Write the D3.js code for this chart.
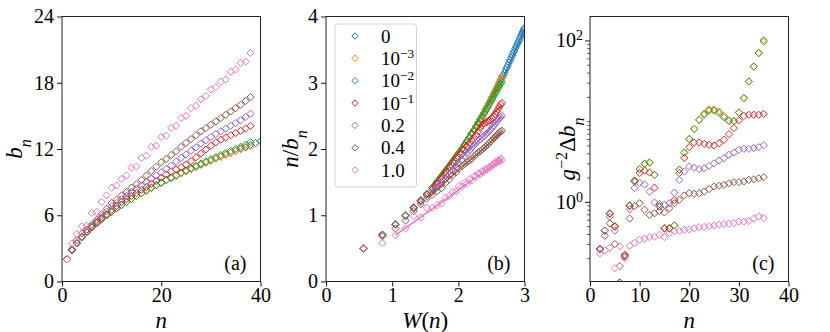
<!DOCTYPE html>
<html>
<head>
<meta charset="utf-8">
<script src="https://cdn.jsdelivr.net/npm/d3@7"></script>
<style>
  body { margin: 0; background: #fff; }
  svg text { font-family: "Liberation Serif", "Times New Roman", "DejaVu Serif", serif; fill: #000; }
</style>
</head>
<body>
<div id="drawing"></div>
<script>
// Series labels (coupling g) and colours
const gLabels = ["0", "10|-3", "10|-2", "10|-1", "0.2", "0.4", "1.0"];
const colors = ["#1f77b4", "#ff7f0e", "#2ca02c", "#d62728", "#9467bd", "#8c564b", "#e377c2"];

// Panel (a): b_n, n = 1, 2, ... (g=0 runs to n=60, the rest to n=38)
const bBlue = [2.0, 2.83, 3.46, 4.0, 4.47, 4.9, 5.29, 5.66, 6.0, 6.32,
  6.63, 6.93, 7.21, 7.48, 7.75, 8.0, 8.25, 8.49, 8.72, 8.94,
  9.17, 9.38, 9.59, 9.8, 10.0, 10.2, 10.39, 10.58, 10.77, 10.95,
  11.14, 11.31, 11.49, 11.66, 11.85, 12.05, 12.2, 12.38, 12.55, 12.7,
  12.84, 13.0, 13.17, 13.31, 13.47, 13.62, 13.78, 13.92, 14.08, 14.22,
  14.38, 14.52, 14.67, 14.82, 14.96, 15.1, 15.25, 15.4, 15.53, 15.68];
const bOrange = [2.0, 2.83, 3.46, 4.0, 4.47, 4.9, 5.29, 5.66, 6.0, 6.32,
  6.63, 6.93, 7.21, 7.48, 7.75, 8.0, 8.25, 8.49, 8.72, 8.94,
  9.17, 9.38, 9.59, 9.8, 10.0, 10.2, 10.39, 10.58, 10.77, 10.95,
  11.14, 11.31, 11.49, 11.66, 11.83, 11.98, 12.12, 12.25];
const bGreen = [2.0, 2.83, 3.46, 4.0, 4.47, 4.9, 5.29, 5.66, 6.0, 6.32,
  6.63, 6.93, 7.21, 7.48, 7.75, 8.0, 8.25, 8.49, 8.72, 8.96,
  9.2, 9.42, 9.63, 9.85, 10.06, 10.27, 10.48, 10.68, 10.88, 11.07,
  11.26, 11.45, 11.64, 11.83, 12.02, 12.2, 12.4, 12.62];
const bRed = [2.0, 2.85, 3.5, 4.05, 4.5, 4.95, 5.35, 5.75, 6.1, 6.5,
  6.85, 7.2, 7.45, 7.75, 8.0, 8.3, 8.55, 8.85, 9.1, 9.4,
  9.7, 9.95, 10.15, 10.35, 10.6, 10.9, 11.25, 11.6, 11.95, 12.3,
  12.6, 12.85, 13.05, 13.25, 13.45, 13.65, 13.85, 14.1];
const bPurple = [2.0, 2.86, 3.5, 4.05, 4.55, 5.0, 5.45, 5.9, 6.35, 6.8,
  7.1, 7.45, 7.75, 8.1, 8.4, 8.7, 9.0, 9.3, 9.6, 9.9,
  10.2, 10.5, 10.85, 11.2, 11.5, 11.85, 12.15, 12.5, 12.8, 13.1,
  13.35, 13.6, 13.85, 14.1, 14.35, 14.6, 14.9, 15.2];
const bBrown = [2.0, 2.93, 3.75, 4.35, 4.7, 5.15, 5.6, 6.1, 6.6, 7.1,
  7.4, 7.8, 8.1, 8.5, 8.8, 9.2, 9.6, 10.0, 10.4, 10.8,
  11.1, 11.45, 11.8, 12.2, 12.55, 12.9, 13.25, 13.6, 13.9, 14.2,
  14.5, 14.8, 15.1, 15.4, 15.7, 16.0, 16.35, 16.7];
const bPink = [2.0, 3.45, 4.3, 5.0, 5.05, 6.2, 6.3, 7.2, 7.8, 8.5,
  8.7, 9.3, 9.6, 10.3, 10.4, 11.2, 11.4, 12.2, 12.3, 13.1,
  13.2, 13.9, 14.1, 14.8, 15.0, 15.7, 15.9, 16.5, 16.8, 17.4,
  17.6, 18.1, 18.3, 19.0, 19.2, 19.8, 19.9, 20.7];
const bSeries = [bBlue, bOrange, bGreen, bRed, bPurple, bBrown, bPink];

// Panel (b): solid guide lines, [W, n/b_n]
const lineBlue = [[1.6, 1.45], [2.0, 1.98], [2.4, 2.6], [2.7, 3.12], [3.0, 3.82]];
const lineOrange = [[1.6, 1.45], [2.0, 1.98], [2.4, 2.6], [2.66, 3.08]];
const lineGreen = [[1.6, 1.45], [2.0, 1.98], [2.4, 2.58], [2.66, 3.02]];
const lineRed = [[1.6, 1.42], [2.0, 1.95], [2.4, 2.42], [2.66, 2.66]];
const linePurple = [[1.6, 1.38], [2.0, 1.82], [2.4, 2.22], [2.66, 2.5]];
const lineBrown = [[1.55, 1.27], [2.0, 1.68], [2.4, 2.02], [2.66, 2.27]];
const linePink = [[1.05, 0.7], [2.66, 1.85]];
const lineSeries = [lineBlue, lineOrange, lineGreen, lineRed, linePurple, lineBrown, linePink];

// Panel (c): g^-2 Δb_n for n = 2 ... 35
const nStartC = 2;
const dOrange = [0.26, 0.44, 0.72, 0.50, 0.10, 0.22, 0.90, 1.84, 2.54, 2.96,
  3.07, 2.16, 0.94, 0.47, 0.47, 0.51, 2.5, 4.08, 6.0, 8.0,
  10.4, 12.4, 14.0, 14.0, 13.2, 11.6, 10.1, 10.0, 12.8, 19.3,
  31, 47.5, 69.7, 101];
const dGreen = [0.26, 0.44, 0.72, 0.50, 0.10, 0.22, 0.90, 1.84, 2.54, 2.96,
  3.07, 2.16, 0.94, 0.47, 0.47, 0.51, 2.5, 4.08, 6.0, 8.0,
  10.4, 12.0, 13.5, 13.5, 12.6, 11.2, 10.1, 10.0, 12.8, 19.3,
  31, 47.5, 69.7, 97];
const dRed = [0.26, 0.44, 0.71, 0.49, 0.10, 0.22, 0.89, 1.78, 2.27, 2.44,
  2.31, 1.5, 0.88, 0.47, 0.47, 1.05, 2.27, 3.5, 4.77, 5.43,
  5.43, 5.24, 5.09, 4.99, 5.34, 5.87, 6.9, 8.2, 10.2, 11.6,
  12.0, 12.0, 12.0, 12.3];
const dPurple = [0.26, 0.44, 0.65, 0.44, 0.10, 0.21, 0.81, 1.48, 1.72, 1.64,
  1.34, 0.98, 0.87, 0.92, 0.96, 1.3, 1.87, 2.38, 2.74, 2.66,
  2.54, 2.6, 2.79, 3.0, 3.25, 3.47, 3.83, 4.08, 4.41, 4.54,
  4.54, 4.63, 4.76, 5.03];
const dBrown = [0.26, 0.38, 0.54, 0.30, 0.16, 0.21, 0.62, 0.89, 0.96, 0.80,
  0.69, 0.72, 0.77, 0.74, 0.83, 0.96, 1.06, 1.2, 1.28, 1.26,
  1.28, 1.34, 1.44, 1.55, 1.58, 1.62, 1.70, 1.75, 1.75, 1.79,
  1.87, 1.9, 1.96, 2.02];
const dPink = [0.23, 0.25, 0.27, 0.15, 0.28, 0.20, 0.285, 0.31, 0.34, 0.35,
  0.365, 0.37, 0.39, 0.365, 0.41, 0.43, 0.435, 0.45, 0.455, 0.47,
  0.485, 0.49, 0.50, 0.51, 0.52, 0.53, 0.535, 0.545, 0.57, 0.57,
  0.58, 0.62, 0.66, 0.63];
const dSeries = [null, dOrange, dGreen, dRed, dPurple, dBrown, dPink];

// Ticks
const ticksAX = [0, 20, 40];
const ticksAY = [0, 6, 12, 18, 24];
const ticksBX = [0, 1, 2, 3];
const ticksBY = [0, 1, 2, 3, 4];
const ticksCX = [0, 10, 20, 30, 40];
const ticksCY = [1, 100];

// SVG dimensions
const svgWidth = 830;
const svgHeight = 332;
const serif = '"Liberation Serif", "Times New Roman", "DejaVu Serif", serif';

const svg = d3.select("#drawing")
  .append("svg")
  .attr("width", svgWidth)
  .attr("height", svgHeight)
  .attr("font-family", serif);

const plotTop = 16.5, plotH = 265, plotW = 198.5;
const lefts = [62, 326, 590];
const tickFont = 20, labelFont = 23;
const xLabelY = 311;

// Lambert W via Newton
function lambertW(x) {
  let w = Math.log(1 + x);
  for (let i = 0; i < 40; i++) {
    const ew = Math.exp(w);
    w = w - (w * ew - x) / (ew * (w + 1));
  }
  return w;
}

const diamond = r => `M0,${-r}L${r},0L0,${r}L${-r},0Z`;

// write text made of parts: {t, it, sup, sub}
function richText(g, parts, size) {
  const t = g.append("text").style("font-size", size + "px").style("font-family", serif);
  parts.forEach(p => {
    const ts = t.append("tspan").text(p.t);
    if (p.it) ts.style("font-style", "italic");
    if (p.sup) ts.attr("baseline-shift", "super").style("font-size", (size * 0.7) + "px");
    if (p.sub) ts.attr("baseline-shift", "sub").style("font-size", (size * 0.7) + "px");
  });
  return t;
}

function panel(i) {
  const g = svg.append("g").attr("transform", `translate(${lefts[i]},${plotTop})`);
  g.append("clipPath").attr("id", "clip" + i)
    .append("rect").attr("width", plotW).attr("height", plotH);
  const plot = g.append("g").attr("clip-path", `url(#clip${i})`);
  return {g, plot};
}

function styleAxis(a) {
  a.attr("font-family", serif);
  a.select(".domain").remove();
  a.selectAll("line").attr("stroke", "#000").attr("stroke-width", 0.9);
  a.selectAll("text").style("font-size", tickFont + "px").style("font-family", serif);
}

function drawAxes(g, x, y, xt, yt) {
  const ax = g.append("g").attr("transform", `translate(0,${plotH})`)
    .call(d3.axisBottom(x).tickValues(xt).tickSize(5).tickPadding(1).tickFormat(d3.format("d")));
  const ay = g.append("g")
    .call(d3.axisLeft(y).tickValues(yt).tickSize(5).tickPadding(3).tickFormat(d3.format("d")));
  styleAxis(ax);
  styleAxis(ay);
  g.append("rect").attr("width", plotW).attr("height", plotH)
    .attr("fill", "none").attr("stroke", "#222").attr("stroke-width", 1);
}

function drawMarkers(plot, pts, color, r) {
  plot.append("g").selectAll("path")
    .data(pts)
    .enter()
    .append("path")
    .attr("d", diamond(r))
    .attr("transform", d => `translate(${d[0]},${d[1]})`)
    .attr("fill", "none")
    .attr("stroke", color)
    .attr("stroke-width", 1);
}

const mr = 3.6;

// ---- Panel (a)
{
  const x = d3.scaleLinear().domain([0, 40]).range([0, plotW]);
  const y = d3.scaleLinear().domain([0, 24]).range([plotH, 0]);
  const {g, plot} = panel(0);
  bSeries.forEach((s, k) => {
    drawMarkers(plot, s.map((b, i) => [x(i + 1), y(b)]), colors[k], mr);
  });
  drawAxes(g, x, y, ticksAX, ticksAY);
  richText(g, [{t: "(a)"}], 20).attr("x", plotW - 14).attr("y", 253.5).attr("text-anchor", "end");
  richText(g, [{t: "n", it: true}], labelFont).attr("x", plotW / 2).attr("y", xLabelY).attr("text-anchor", "middle");
  richText(g, [{t: "b", it: true}, {t: "n", it: true, sub: true}], labelFont)
    .attr("text-anchor", "middle")
    .attr("transform", `translate(${-40},${plotH / 2}) rotate(-90)`);
}

// ---- Panel (b)
{
  const x = d3.scaleLinear().domain([0, 3]).range([0, plotW]);
  const y = d3.scaleLinear().domain([0, 4]).range([plotH, 0]);
  const {g, plot} = panel(1);
  const lineGen = d3.line().x(d => x(d[0])).y(d => y(d[1]));
  bSeries.forEach((s, k) => {
    plot.append("path").attr("d", lineGen(lineSeries[k]))
      .attr("fill", "none").attr("stroke", colors[k]).attr("stroke-width", 1.5);
    drawMarkers(plot, s.map((b, i) => [x(lambertW(i + 1)), y((i + 1) / b)]), colors[k], mr);
  });
  drawAxes(g, x, y, ticksBX, ticksBY);
  richText(g, [{t: "(b)"}], 20).attr("x", plotW - 14).attr("y", 253.5).attr("text-anchor", "end");
  richText(g, [{t: "W", it: true}, {t: "("}, {t: "n", it: true}, {t: ")"}], labelFont)
    .attr("x", plotW / 2).attr("y", xLabelY).attr("text-anchor", "middle");
  richText(g, [{t: "n", it: true}, {t: "/"}, {t: "b", it: true}, {t: "n", it: true, sub: true}], labelFont)
    .attr("text-anchor", "middle")
    .attr("transform", `translate(${-28},${plotH / 2}) rotate(-90)`);

  // legend
  const lg = g.append("g").attr("transform", "translate(9,7.5)");
  lg.append("rect").attr("width", 81.5).attr("height", 163).attr("rx", 3)
    .attr("fill", "#fff").attr("fill-opacity", 0.8).attr("stroke", "#d4d4d4").attr("stroke-width", 1);
  gLabels.forEach((lab, k) => {
    const yy = 12 + k * 22.35;
    lg.append("path").attr("d", diamond(3.2)).attr("transform", `translate(20,${yy})`)
      .attr("fill", "none").attr("stroke", colors[k]).attr("stroke-width", 1);
    const parts = lab.split("|");
    const t = richText(lg, parts.length > 1 ? [{t: parts[0]}, {t: "\u2212" + parts[1].slice(1), sup: true}] : [{t: lab}], 19);
    t.attr("x", 46).attr("y", yy + 6.5);
  });
}

// ---- Panel (c)
{
  const x = d3.scaleLinear().domain([0, 40]).range([0, plotW]);
  const y = d3.scaleLog().domain([0.103, 198]).range([plotH, 0]);
  const {g, plot} = panel(2);
  dSeries.forEach((s, k) => {
    if (!s) return;
    drawMarkers(plot, s.map((v, i) => [x(i + nStartC), y(v)]), colors[k], mr);
  });
  const ax = g.append("g").attr("transform", `translate(0,${plotH})`)
    .call(d3.axisBottom(x).tickValues(ticksCX).tickSize(5).tickPadding(1).tickFormat(d3.format("d")));
  const minors = [];
  [0.1, 1, 10, 100].forEach(dec => {
    for (let m = 1; m <= 9; m++) {
      const v = dec * m;
      if (v >= 0.103 && v <= 198 && !ticksCY.includes(v)) minors.push(v);
    }
  });
  const ayMin = g.append("g").call(d3.axisLeft(y).tickValues(minors).tickSize(2.8).tickFormat(""));
  const ay = g.append("g").call(d3.axisLeft(y).tickValues(ticksCY).tickSize(5).tickFormat(""));
  [ax, ay, ayMin].forEach(styleAxis);
  ayMin.selectAll("line").attr("stroke-width", 0.7);
  ticksCY.forEach(v => {
    richText(g, [{t: "10"}, {t: String(Math.round(Math.log10(v))), sup: true}], tickFont)
      .attr("x", -7).attr("y", y(v) + 7).attr("text-anchor", "end");
  });
  g.append("rect").attr("width", plotW).attr("height", plotH)
    .attr("fill", "none").attr("stroke", "#222").attr("stroke-width", 1);
  richText(g, [{t: "(c)"}], 20).attr("x", plotW - 14).attr("y", 253.5).attr("text-anchor", "end");
  richText(g, [{t: "n", it: true}], labelFont).attr("x", plotW / 2).attr("y", xLabelY).attr("text-anchor", "middle");
  richText(g, [{t: "g", it: true}, {t: "\u22122", sup: true}, {t: "\u0394"}, {t: "b", it: true}, {t: "n", it: true, sub: true}], labelFont)
    .attr("text-anchor", "middle")
    .attr("transform", `translate(${-15},${plotH / 2}) rotate(-90)`);
}
</script>
</body>
</html>
